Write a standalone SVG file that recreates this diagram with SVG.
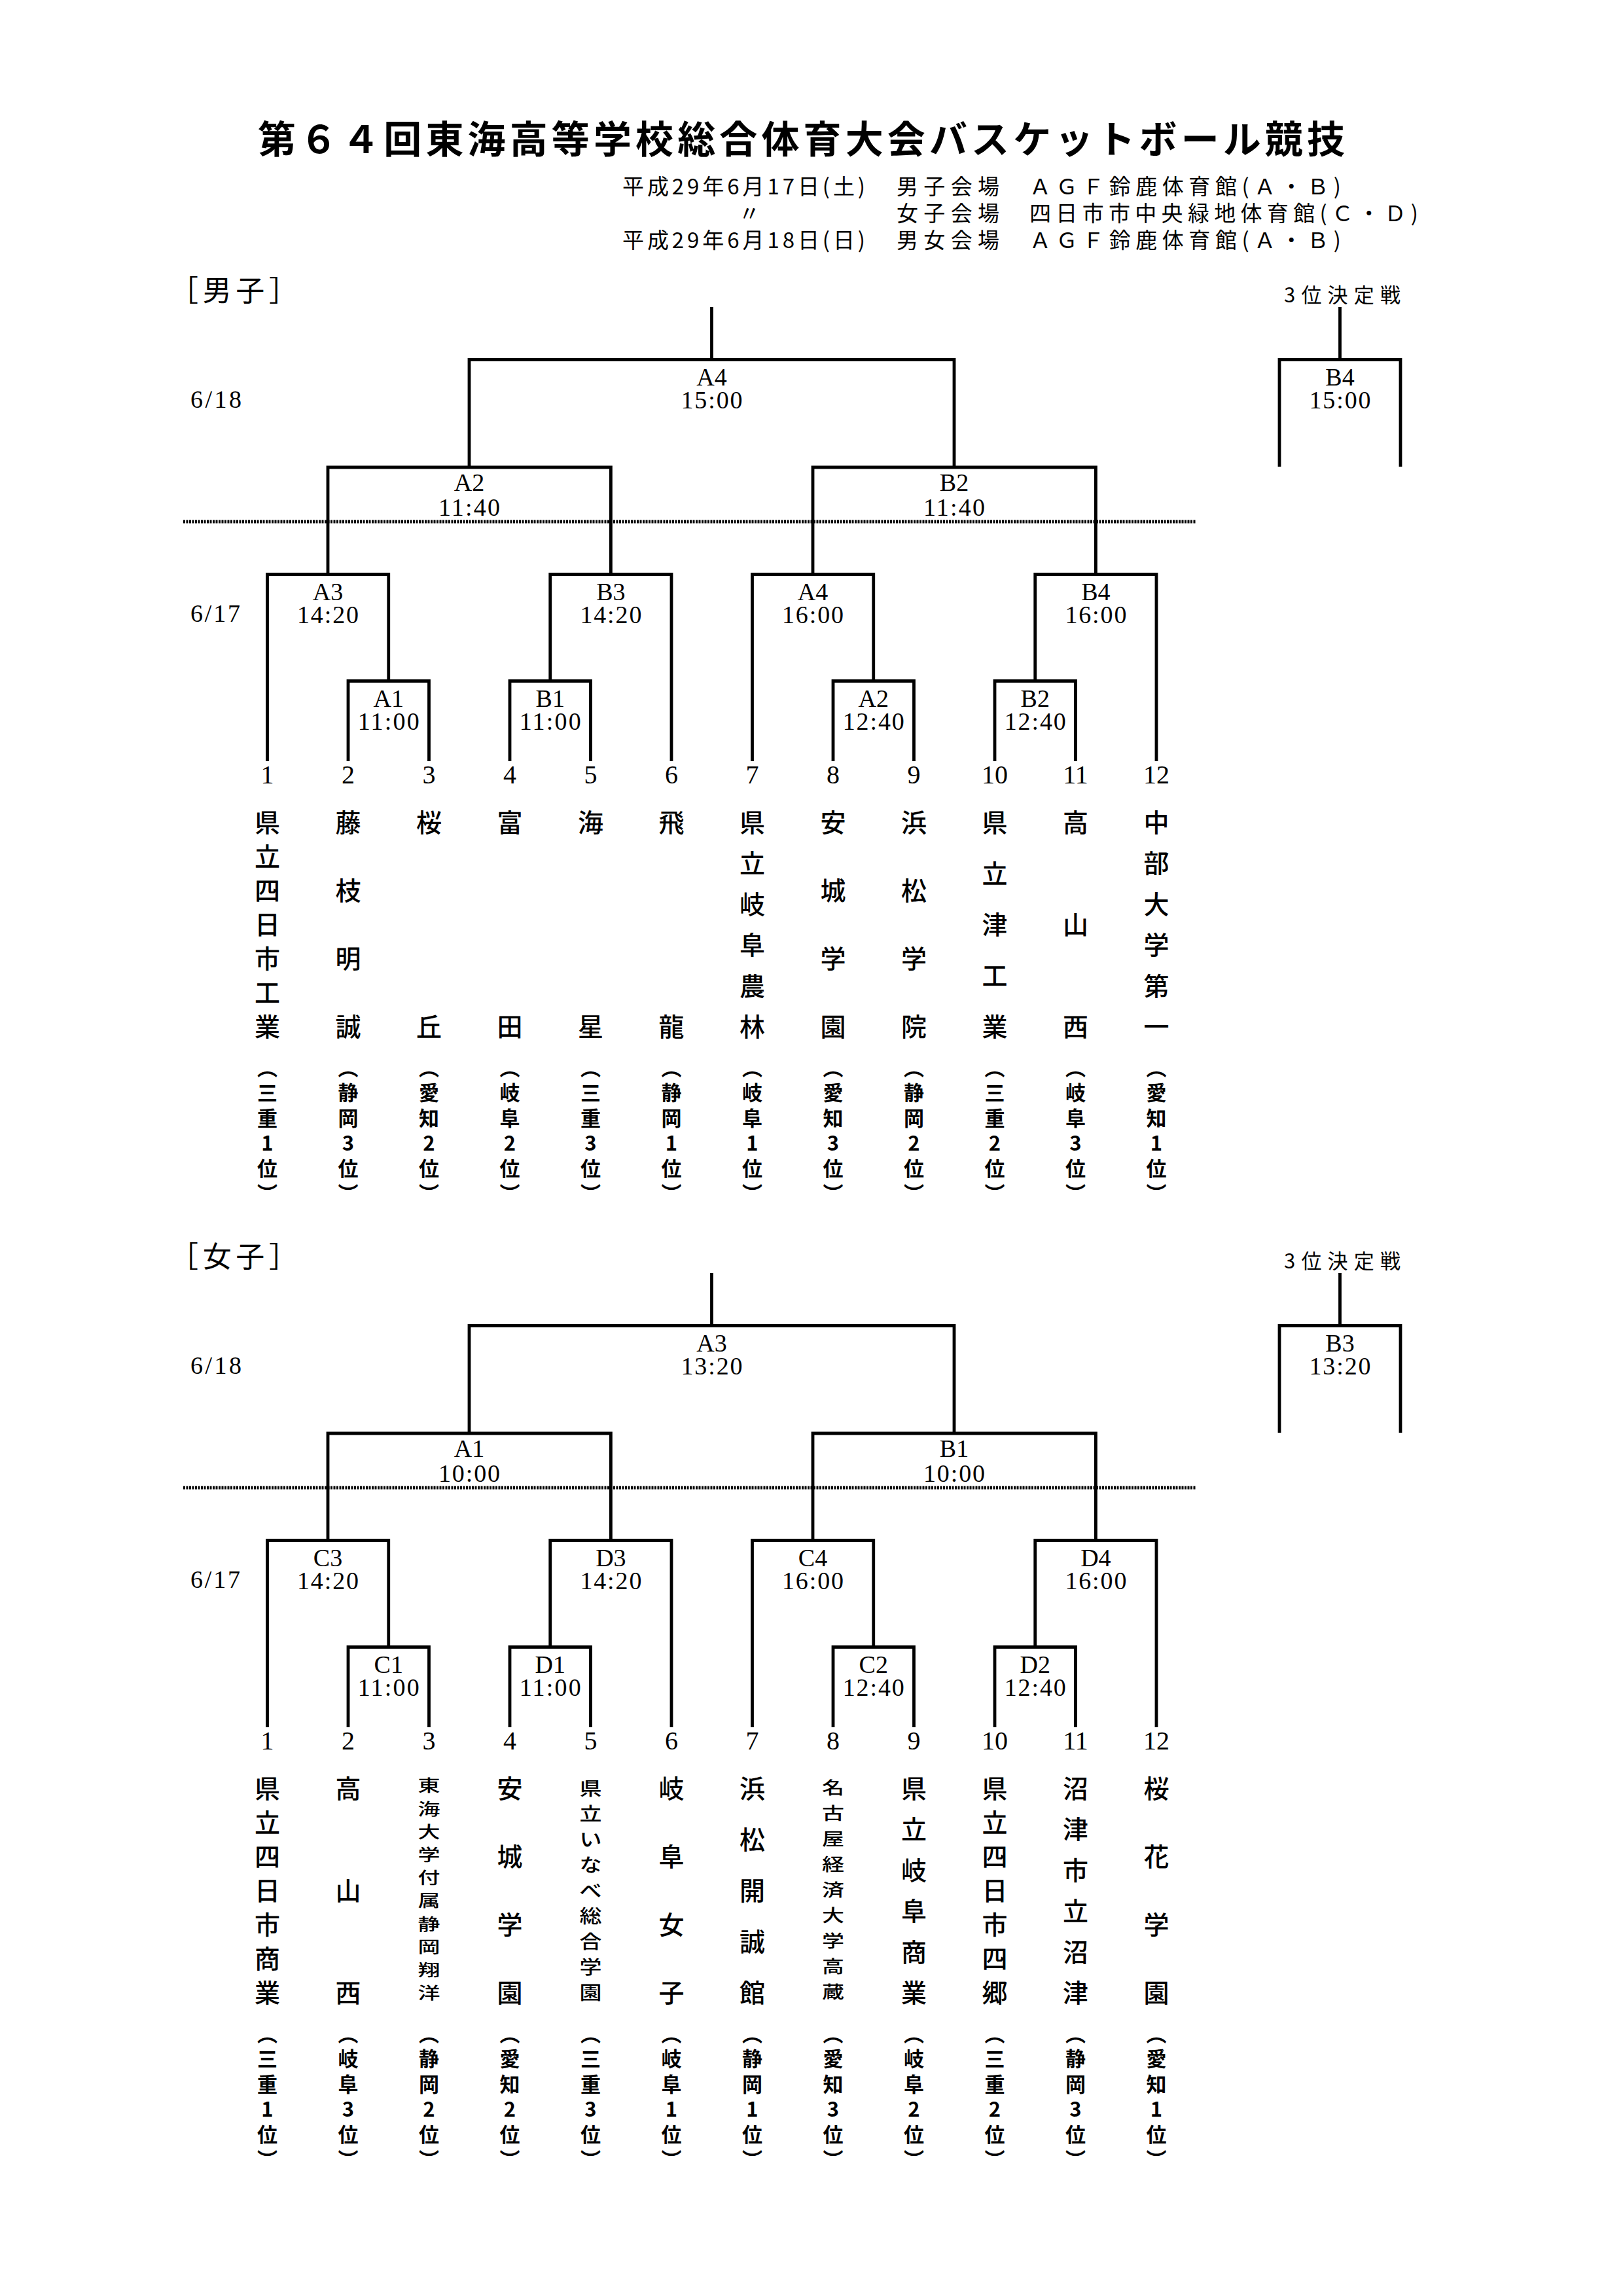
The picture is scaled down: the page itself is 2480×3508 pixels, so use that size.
<svg xmlns="http://www.w3.org/2000/svg" width="2480" height="3508" viewBox="0 0 2480 3508">
<style>
.ln{fill:none;stroke:#000;stroke-width:4.8;stroke-linejoin:miter;stroke-linecap:butt}
.dot{fill:none;stroke:#000;stroke-width:5;stroke-dasharray:3 1.5}
.lbl{font-family:"Liberation Serif",serif;font-size:38px;text-anchor:middle;fill:#000}
.num{font-family:"Liberation Serif",serif;font-size:40px;text-anchor:middle;fill:#000}
.day{font-family:"Liberation Serif",serif;font-size:38px;fill:#000}
.nm{font-family:"Noto Sans CJK JP",sans-serif;font-size:39px;font-weight:500;text-anchor:middle;dominant-baseline:central;fill:#000}
.nms{font-family:"Noto Sans CJK JP",sans-serif;font-size:34px;font-weight:500;text-anchor:middle;dominant-baseline:central;fill:#000}
.pf{font-family:"Noto Sans CJK JP",sans-serif;font-size:31px;font-weight:700;text-anchor:middle;dominant-baseline:central;fill:#000}
.hd{font-family:"Noto Sans CJK JP",sans-serif;font-size:33px;dominant-baseline:central;fill:#000}
.sec{font-family:"Noto Sans CJK JP",sans-serif;font-size:44px;dominant-baseline:central;fill:#000}
.sm{font-family:"Noto Sans CJK JP",sans-serif;font-size:31px;dominant-baseline:central;fill:#000}
.tt{font-family:"Noto Sans CJK JP",sans-serif;font-size:58px;font-weight:700;dominant-baseline:central;fill:#000}
</style>
<rect width="2480" height="3508" fill="#fff"/>

<g id="header">
<text class="tt" x="394" y="209" textLength="1661" lengthAdjust="spacing">第６４回東海高等学校総合体育大会バスケットボール競技</text>
<text class="hd" x="951" y="283" textLength="371" lengthAdjust="spacing">平成29年6月17日(土)</text>
<text class="hd" x="1370" y="283" textLength="157" lengthAdjust="spacing">男子会場</text>
<text class="hd" x="1573" y="283" textLength="476" lengthAdjust="spacing">ＡＧＦ鈴鹿体育館(Ａ・Ｂ)</text>
<text class="hd" x="1145" y="324" text-anchor="middle">〃</text>
<text class="hd" x="1370" y="324" textLength="157" lengthAdjust="spacing">女子会場</text>
<text class="hd" x="1573" y="324" textLength="594" lengthAdjust="spacing">四日市市中央緑地体育館(Ｃ・Ｄ)</text>
<text class="hd" x="951" y="365" textLength="371" lengthAdjust="spacing">平成29年6月18日(日)</text>
<text class="hd" x="1370" y="365" textLength="157" lengthAdjust="spacing">男女会場</text>
<text class="hd" x="1573" y="365" textLength="476" lengthAdjust="spacing">ＡＧＦ鈴鹿体育館(Ａ・Ｂ)</text>
</g>

<!-- ================= MEN ================= -->
<g id="men-section">
<text class="sec" x="259" y="441" textLength="196" lengthAdjust="spacing">［男子］</text>
<text class="sm" x="1962" y="448" textLength="178" lengthAdjust="spacing">3位決定戦</text>
<text class="day" x="291" y="623" textLength="78" lengthAdjust="spacing">6/18</text>
<text class="day" x="291" y="950" textLength="76" lengthAdjust="spacing">6/17</text>
</g>

<g id="men-connectors">
<path class="ln" d="M1087.5 469 V549.5"/>
<path class="ln" d="M717 714 V549.5 H1458 V714"/>
<path class="ln" d="M2047.5 469 V549.5"/>
<path class="ln" d="M1955 713 V549.5 H2140 V713"/>
<path class="ln" d="M501 877.5 V714 H933.4 V877.5"/>
<path class="ln" d="M1242 877.5 V714 H1674.4 V877.5"/>
<path class="ln" d="M408.5 1163 V877.5 H593.75 V1040.5"/>
<path class="ln" d="M840.75 1040.5 V877.5 H1026 V1163"/>
<path class="ln" d="M1149.5 1163 V877.5 H1334.75 V1040.5"/>
<path class="ln" d="M1581.75 1040.5 V877.5 H1767 V1163"/>
<path class="ln" d="M532 1163 V1040.5 H655.5 V1163"/>
<path class="ln" d="M779 1163 V1040.5 H902.5 V1163"/>
<path class="ln" d="M1273 1163 V1040.5 H1396.5 V1163"/>
<path class="ln" d="M1520 1163 V1040.5 H1643.5 V1163"/>
<path class="dot" d="M280 797 H1828"/>
</g>

<g id="men-matches">
<g id="m-final"><text class="lbl" x="1087.5" y="589">A4</text><text class="lbl" x="1087.5" y="624" textLength="94" lengthAdjust="spacing">15:00</text></g>
<g id="m-third"><text class="lbl" x="2047.5" y="589">B4</text><text class="lbl" x="2047.5" y="624" textLength="94" lengthAdjust="spacing">15:00</text></g>
<g id="m-sf-a2"><text class="lbl" x="717" y="750">A2</text><text class="lbl" x="717" y="788" textLength="94" lengthAdjust="spacing">11:40</text></g>
<g id="m-sf-b2"><text class="lbl" x="1458" y="750">B2</text><text class="lbl" x="1458" y="788" textLength="94" lengthAdjust="spacing">11:40</text></g>
<g id="m-qf-a3"><text class="lbl" x="501" y="917">A3</text><text class="lbl" x="501" y="952" textLength="94" lengthAdjust="spacing">14:20</text></g>
<g id="m-qf-b3"><text class="lbl" x="933.4" y="917">B3</text><text class="lbl" x="933.4" y="952" textLength="94" lengthAdjust="spacing">14:20</text></g>
<g id="m-qf-a4"><text class="lbl" x="1242" y="917">A4</text><text class="lbl" x="1242" y="952" textLength="94" lengthAdjust="spacing">16:00</text></g>
<g id="m-qf-b4"><text class="lbl" x="1674.4" y="917">B4</text><text class="lbl" x="1674.4" y="952" textLength="94" lengthAdjust="spacing">16:00</text></g>
<g id="m-r1-a1"><text class="lbl" x="593.75" y="1080">A1</text><text class="lbl" x="593.75" y="1115" textLength="94" lengthAdjust="spacing">11:00</text></g>
<g id="m-r1-b1"><text class="lbl" x="840.75" y="1080">B1</text><text class="lbl" x="840.75" y="1115" textLength="94" lengthAdjust="spacing">11:00</text></g>
<g id="m-r1-a2"><text class="lbl" x="1334.75" y="1080">A2</text><text class="lbl" x="1334.75" y="1115" textLength="94" lengthAdjust="spacing">12:40</text></g>
<g id="m-r1-b2"><text class="lbl" x="1581.75" y="1080">B2</text><text class="lbl" x="1581.75" y="1115" textLength="94" lengthAdjust="spacing">12:40</text></g>
</g>

<g id="men-teams">
<g id="m-team-1"><text class="num" x="408.5" y="1197">1</text>
<text class="nm" x="408.5 408.5 408.5 408.5 408.5 408.5 408.5" y="1254 1306 1358 1410 1462 1514 1566">県立四日市工業</text>
<text class="pf" x="408.5 408.5 408.5 408.5 408.5 408.5" y="1629 1667.5 1706 1744.5 1783 1821.5">︵三重1位︶</text></g>
<g id="m-team-2"><text class="num" x="532" y="1197">2</text>
<text class="nm" x="532 532 532 532" y="1254 1358 1462 1566">藤枝明誠</text>
<text class="pf" x="532 532 532 532 532 532" y="1629 1667.5 1706 1744.5 1783 1821.5">︵静岡3位︶</text></g>
<g id="m-team-3"><text class="num" x="655.5" y="1197">3</text>
<text class="nm" x="655.5 655.5" y="1254 1566">桜丘</text>
<text class="pf" x="655.5 655.5 655.5 655.5 655.5 655.5" y="1629 1667.5 1706 1744.5 1783 1821.5">︵愛知2位︶</text></g>
<g id="m-team-4"><text class="num" x="779" y="1197">4</text>
<text class="nm" x="779 779" y="1254 1566">富田</text>
<text class="pf" x="779 779 779 779 779 779" y="1629 1667.5 1706 1744.5 1783 1821.5">︵岐阜2位︶</text></g>
<g id="m-team-5"><text class="num" x="902.5" y="1197">5</text>
<text class="nm" x="902.5 902.5" y="1254 1566">海星</text>
<text class="pf" x="902.5 902.5 902.5 902.5 902.5 902.5" y="1629 1667.5 1706 1744.5 1783 1821.5">︵三重3位︶</text></g>
<g id="m-team-6"><text class="num" x="1026" y="1197">6</text>
<text class="nm" x="1026 1026" y="1254 1566">飛龍</text>
<text class="pf" x="1026 1026 1026 1026 1026 1026" y="1629 1667.5 1706 1744.5 1783 1821.5">︵静岡1位︶</text></g>
<g id="m-team-7"><text class="num" x="1149.5" y="1197">7</text>
<text class="nm" x="1149.5 1149.5 1149.5 1149.5 1149.5 1149.5" y="1254 1316.4 1378.8 1441.2 1503.6 1566">県立岐阜農林</text>
<text class="pf" x="1149.5 1149.5 1149.5 1149.5 1149.5 1149.5" y="1629 1667.5 1706 1744.5 1783 1821.5">︵岐阜1位︶</text></g>
<g id="m-team-8"><text class="num" x="1273" y="1197">8</text>
<text class="nm" x="1273 1273 1273 1273" y="1254 1358 1462 1566">安城学園</text>
<text class="pf" x="1273 1273 1273 1273 1273 1273" y="1629 1667.5 1706 1744.5 1783 1821.5">︵愛知3位︶</text></g>
<g id="m-team-9"><text class="num" x="1396.5" y="1197">9</text>
<text class="nm" x="1396.5 1396.5 1396.5 1396.5" y="1254 1358 1462 1566">浜松学院</text>
<text class="pf" x="1396.5 1396.5 1396.5 1396.5 1396.5 1396.5" y="1629 1667.5 1706 1744.5 1783 1821.5">︵静岡2位︶</text></g>
<g id="m-team-10"><text class="num" x="1520" y="1197">10</text>
<text class="nm" x="1520 1520 1520 1520 1520" y="1254 1332 1410 1488 1566">県立津工業</text>
<text class="pf" x="1520 1520 1520 1520 1520 1520" y="1629 1667.5 1706 1744.5 1783 1821.5">︵三重2位︶</text></g>
<g id="m-team-11"><text class="num" x="1643.5" y="1197">11</text>
<text class="nm" x="1643.5 1643.5 1643.5" y="1254 1410 1566">高山西</text>
<text class="pf" x="1643.5 1643.5 1643.5 1643.5 1643.5 1643.5" y="1629 1667.5 1706 1744.5 1783 1821.5">︵岐阜3位︶</text></g>
<g id="m-team-12"><text class="num" x="1767" y="1197">12</text>
<text class="nm" x="1767 1767 1767 1767 1767 1767" y="1254 1316.4 1378.8 1441.2 1503.6 1566">中部大学第一</text>
<text class="pf" x="1767 1767 1767 1767 1767 1767" y="1629 1667.5 1706 1744.5 1783 1821.5">︵愛知1位︶</text></g>
</g>

<!-- ================= WOMEN ================= -->
<g id="women-section">
<text class="sec" x="259" y="1917" textLength="196" lengthAdjust="spacing">［女子］</text>
<text class="sm" x="1962" y="1924" textLength="178" lengthAdjust="spacing">3位決定戦</text>
<text class="day" x="291" y="2099" textLength="78" lengthAdjust="spacing">6/18</text>
<text class="day" x="291" y="2426" textLength="76" lengthAdjust="spacing">6/17</text>
</g>

<g id="women-connectors">
<path class="ln" d="M1087.5 1945 V2025.5"/>
<path class="ln" d="M717 2190 V2025.5 H1458 V2190"/>
<path class="ln" d="M2047.5 1945 V2025.5"/>
<path class="ln" d="M1955 2189 V2025.5 H2140 V2189"/>
<path class="ln" d="M501 2353.5 V2190 H933.4 V2353.5"/>
<path class="ln" d="M1242 2353.5 V2190 H1674.4 V2353.5"/>
<path class="ln" d="M408.5 2639 V2353.5 H593.75 V2516.5"/>
<path class="ln" d="M840.75 2516.5 V2353.5 H1026 V2639"/>
<path class="ln" d="M1149.5 2639 V2353.5 H1334.75 V2516.5"/>
<path class="ln" d="M1581.75 2516.5 V2353.5 H1767 V2639"/>
<path class="ln" d="M532 2639 V2516.5 H655.5 V2639"/>
<path class="ln" d="M779 2639 V2516.5 H902.5 V2639"/>
<path class="ln" d="M1273 2639 V2516.5 H1396.5 V2639"/>
<path class="ln" d="M1520 2639 V2516.5 H1643.5 V2639"/>
<path class="dot" d="M280 2273 H1828"/>
</g>

<g id="women-matches">
<g id="w-final"><text class="lbl" x="1087.5" y="2065">A3</text><text class="lbl" x="1087.5" y="2100" textLength="94" lengthAdjust="spacing">13:20</text></g>
<g id="w-third"><text class="lbl" x="2047.5" y="2065">B3</text><text class="lbl" x="2047.5" y="2100" textLength="94" lengthAdjust="spacing">13:20</text></g>
<g id="w-sf-a1"><text class="lbl" x="717" y="2226">A1</text><text class="lbl" x="717" y="2264" textLength="94" lengthAdjust="spacing">10:00</text></g>
<g id="w-sf-b1"><text class="lbl" x="1458" y="2226">B1</text><text class="lbl" x="1458" y="2264" textLength="94" lengthAdjust="spacing">10:00</text></g>
<g id="w-qf-c3"><text class="lbl" x="501" y="2393">C3</text><text class="lbl" x="501" y="2428" textLength="94" lengthAdjust="spacing">14:20</text></g>
<g id="w-qf-d3"><text class="lbl" x="933.4" y="2393">D3</text><text class="lbl" x="933.4" y="2428" textLength="94" lengthAdjust="spacing">14:20</text></g>
<g id="w-qf-c4"><text class="lbl" x="1242" y="2393">C4</text><text class="lbl" x="1242" y="2428" textLength="94" lengthAdjust="spacing">16:00</text></g>
<g id="w-qf-d4"><text class="lbl" x="1674.4" y="2393">D4</text><text class="lbl" x="1674.4" y="2428" textLength="94" lengthAdjust="spacing">16:00</text></g>
<g id="w-r1-c1"><text class="lbl" x="593.75" y="2556">C1</text><text class="lbl" x="593.75" y="2591" textLength="94" lengthAdjust="spacing">11:00</text></g>
<g id="w-r1-d1"><text class="lbl" x="840.75" y="2556">D1</text><text class="lbl" x="840.75" y="2591" textLength="94" lengthAdjust="spacing">11:00</text></g>
<g id="w-r1-c2"><text class="lbl" x="1334.75" y="2556">C2</text><text class="lbl" x="1334.75" y="2591" textLength="94" lengthAdjust="spacing">12:40</text></g>
<g id="w-r1-d2"><text class="lbl" x="1581.75" y="2556">D2</text><text class="lbl" x="1581.75" y="2591" textLength="94" lengthAdjust="spacing">12:40</text></g>
</g>

<g id="women-teams">
<g id="w-team-1"><text class="num" x="408.5" y="2673">1</text>
<text class="nm" x="408.5 408.5 408.5 408.5 408.5 408.5 408.5" y="2730 2782 2834 2886 2938 2990 3042">県立四日市商業</text>
<text class="pf" x="408.5 408.5 408.5 408.5 408.5 408.5" y="3105 3143.5 3182 3220.5 3259 3297.5">︵三重1位︶</text></g>
<g id="w-team-2"><text class="num" x="532" y="2673">2</text>
<text class="nm" x="532 532 532" y="2730 2886 3042">高山西</text>
<text class="pf" x="532 532 532 532 532 532" y="3105 3143.5 3182 3220.5 3259 3297.5">︵岐阜3位︶</text></g>
<g id="w-team-3"><text class="num" x="655.5" y="2673">3</text>
<text class="nms" transform="translate(0,2727) scale(1,0.72)" x="655.5 655.5 655.5 655.5 655.5 655.5 655.5 655.5 655.5 655.5" y="0 48.9 97.8 146.7 195.6 244.5 293.4 342.3 391.2 440.1">東海大学付属静岡翔洋</text>
<text class="pf" x="655.5 655.5 655.5 655.5 655.5 655.5" y="3105 3143.5 3182 3220.5 3259 3297.5">︵静岡2位︶</text></g>
<g id="w-team-4"><text class="num" x="779" y="2673">4</text>
<text class="nm" x="779 779 779 779" y="2730 2834 2938 3042">安城学園</text>
<text class="pf" x="779 779 779 779 779 779" y="3105 3143.5 3182 3220.5 3259 3297.5">︵愛知2位︶</text></g>
<g id="w-team-5"><text class="num" x="902.5" y="2673">5</text>
<text class="nms" transform="translate(0,2730) scale(1,0.85)" x="902.5 902.5 902.5 902.5 902.5 902.5 902.5 902.5 902.5" y="0 45.88 91.76 137.65 183.53 229.41 275.29 321.18 367.06">県立いなべ総合学園</text>
<text class="pf" x="902.5 902.5 902.5 902.5 902.5 902.5" y="3105 3143.5 3182 3220.5 3259 3297.5">︵三重3位︶</text></g>
<g id="w-team-6"><text class="num" x="1026" y="2673">6</text>
<text class="nm" x="1026 1026 1026 1026" y="2730 2834 2938 3042">岐阜女子</text>
<text class="pf" x="1026 1026 1026 1026 1026 1026" y="3105 3143.5 3182 3220.5 3259 3297.5">︵岐阜1位︶</text></g>
<g id="w-team-7"><text class="num" x="1149.5" y="2673">7</text>
<text class="nm" x="1149.5 1149.5 1149.5 1149.5 1149.5" y="2730 2808 2886 2964 3042">浜松開誠館</text>
<text class="pf" x="1149.5 1149.5 1149.5 1149.5 1149.5 1149.5" y="3105 3143.5 3182 3220.5 3259 3297.5">︵静岡1位︶</text></g>
<g id="w-team-8"><text class="num" x="1273" y="2673">8</text>
<text class="nms" transform="translate(0,2730) scale(1,0.78)" x="1273 1273 1273 1273 1273 1273 1273 1273 1273" y="0 50 100 150 200 250 300 350 400">名古屋経済大学高蔵</text>
<text class="pf" x="1273 1273 1273 1273 1273 1273" y="3105 3143.5 3182 3220.5 3259 3297.5">︵愛知3位︶</text></g>
<g id="w-team-9"><text class="num" x="1396.5" y="2673">9</text>
<text class="nm" x="1396.5 1396.5 1396.5 1396.5 1396.5 1396.5" y="2730 2792.4 2854.8 2917.2 2979.6 3042">県立岐阜商業</text>
<text class="pf" x="1396.5 1396.5 1396.5 1396.5 1396.5 1396.5" y="3105 3143.5 3182 3220.5 3259 3297.5">︵岐阜2位︶</text></g>
<g id="w-team-10"><text class="num" x="1520" y="2673">10</text>
<text class="nm" x="1520 1520 1520 1520 1520 1520 1520" y="2730 2782 2834 2886 2938 2990 3042">県立四日市四郷</text>
<text class="pf" x="1520 1520 1520 1520 1520 1520" y="3105 3143.5 3182 3220.5 3259 3297.5">︵三重2位︶</text></g>
<g id="w-team-11"><text class="num" x="1643.5" y="2673">11</text>
<text class="nm" x="1643.5 1643.5 1643.5 1643.5 1643.5 1643.5" y="2730 2792.4 2854.8 2917.2 2979.6 3042">沼津市立沼津</text>
<text class="pf" x="1643.5 1643.5 1643.5 1643.5 1643.5 1643.5" y="3105 3143.5 3182 3220.5 3259 3297.5">︵静岡3位︶</text></g>
<g id="w-team-12"><text class="num" x="1767" y="2673">12</text>
<text class="nm" x="1767 1767 1767 1767" y="2730 2834 2938 3042">桜花学園</text>
<text class="pf" x="1767 1767 1767 1767 1767 1767" y="3105 3143.5 3182 3220.5 3259 3297.5">︵愛知1位︶</text></g>
</g>
</svg>
